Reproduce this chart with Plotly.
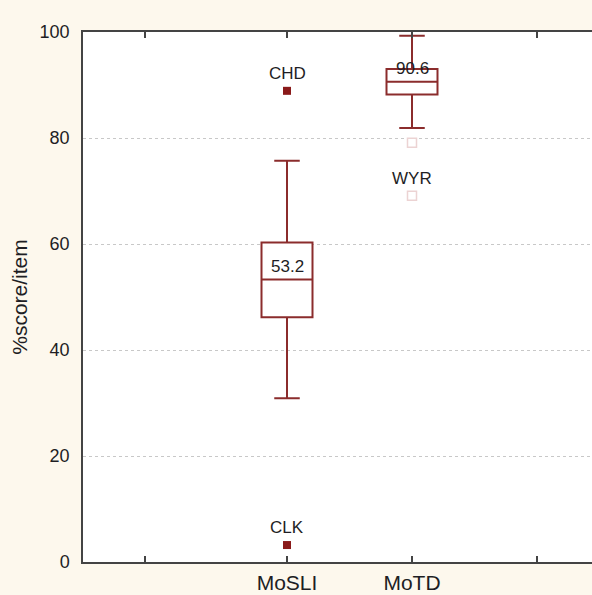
import plotly.graph_objects as go

# ---- data ----
groups = ["MoSLI", "MoTD"]
group_pos = [1, 2]
q1 = [46.2, 88.2]
median = [53.3, 90.6]
q3 = [60.3, 93.0]
lower_whisker = [30.9, 81.9]
upper_whisker = [75.7, 99.3]
median_labels = ["53.2", "90.6"]

# extreme points (filled) and outliers (hollow)
extreme_x = [1, 1]
extreme_y = [88.9, 3.2]
extreme_labels = ["CHD", "CLK"]
outlier_x = [2, 2]
outlier_y = [79.1, 69.1]
outlier_labels = ["", "WYR"]

xtick_vals = [-0.136, 1, 2, 3]
xtick_text = ["", "MoSLI", "MoTD", ""]
ytick_vals = [0, 20, 40, 60, 80, 100]

RED = "#8b2c2c"
TXT = "#1e1e24"
BG = "#fdf8ed"

fig = go.Figure()
for i, g in enumerate(groups):
    fig.add_trace(go.Box(
        x=[group_pos[i]], q1=[q1[i]], median=[median[i]], q3=[q3[i]],
        lowerfence=[lower_whisker[i]], upperfence=[upper_whisker[i]],
        width=0.408, whiskerwidth=0.5, fillcolor="white",
        line=dict(color=RED, width=2), boxpoints=False, name=g,
        showlegend=False, hoverinfo="skip",
    ))
    fig.add_annotation(x=group_pos[i], y=median[i], text=median_labels[i],
                       showarrow=False, yanchor="bottom", yshift=2,
                       font=dict(size=17, color=TXT, family="Liberation Sans, Arial"))

fig.add_trace(go.Scatter(
    x=extreme_x, y=extreme_y, mode="markers",
    marker=dict(symbol="square", size=8, color="#8a1a1a"),
    showlegend=False, hoverinfo="skip"))
fig.add_trace(go.Scatter(
    x=outlier_x, y=outlier_y, mode="markers",
    marker=dict(symbol="square-open", size=9, color="#ecd3d3", line=dict(width=1.5)),
    showlegend=False, hoverinfo="skip"))

for x, y, t in list(zip(extreme_x, extreme_y, extreme_labels)) + list(zip(outlier_x, outlier_y, outlier_labels)):
    if t:
        fig.add_annotation(x=x, y=y, text=t, showarrow=False, yanchor="bottom", yshift=6,
                           font=dict(size=17, color=TXT, family="Liberation Sans, Arial"))

fig.update_layout(
    width=592, height=595,
    margin=dict(l=83, r=0, t=32, b=33, pad=0),
    paper_bgcolor=BG, plot_bgcolor="white",
    font=dict(family="Liberation Sans, Arial", color=TXT),
)
fig.update_xaxes(
    range=[-0.632, 3.44], tickmode="array", tickvals=xtick_vals, ticktext=xtick_text,
    ticks="inside", ticklen=6, tickwidth=1.5, tickcolor="#444",
    showline=True, linecolor="#444", linewidth=1.5, mirror="ticks",
    showgrid=False, zeroline=False, tickfont=dict(size=21, color=TXT),
    automargin=False, ticklabelstandoff=1,
)
fig.update_yaxes(
    range=[0, 100], tickmode="array", tickvals=ytick_vals,
    showline=True, linecolor="#444", linewidth=1.5, mirror=False,
    showgrid=True, gridcolor="#c8c8c8", griddash="3px,3px", gridwidth=1.2,
    zeroline=False, ticks="", ticklabelstandoff=8,
    tickfont=dict(size=18, color=TXT), automargin=False,
    title=dict(text="%score/item", font=dict(size=21, color=TXT), standoff=6),
)
fig.write_html(
    "out.html",
    config={"displayModeBar": False},
    post_script="document.body.style.margin='0';document.body.style.background='%s';" % BG,
)
